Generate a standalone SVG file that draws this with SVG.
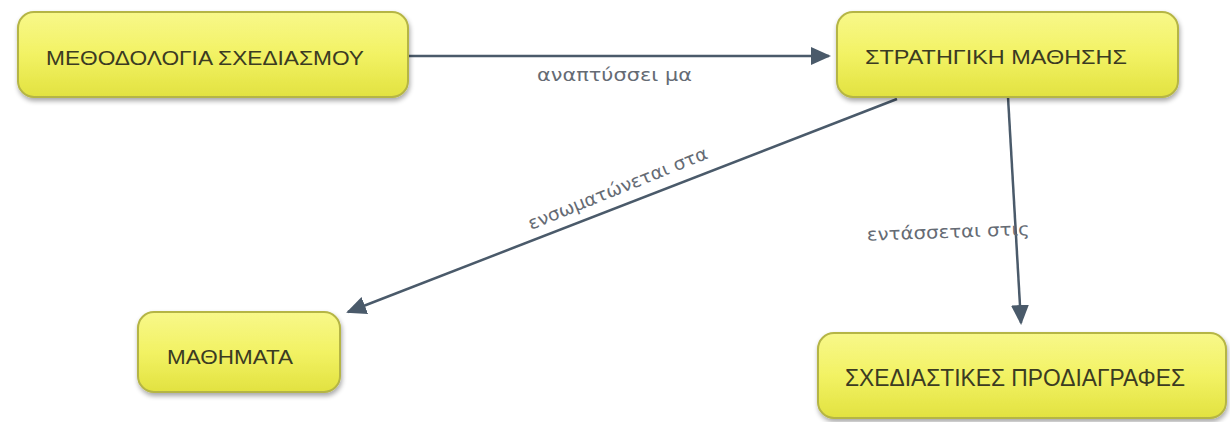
<svg xmlns="http://www.w3.org/2000/svg" width="1230" height="422" viewBox="0 0 1230 422">
<defs>
<linearGradient id="g" x1="0" y1="0" x2="0" y2="1">
<stop offset="0" stop-color="#f8f88a"/>
<stop offset="0.5" stop-color="#f2f264"/>
<stop offset="1" stop-color="#e2e240"/>
</linearGradient>
<filter id="sh" x="-10%" y="-20%" width="120%" height="150%">
<feGaussianBlur in="SourceAlpha" stdDeviation="2.5"/>
<feOffset dx="1" dy="3" result="b"/>
<feComponentTransfer><feFuncA type="linear" slope="0.35"/></feComponentTransfer>
<feMerge><feMergeNode/><feMergeNode in="SourceGraphic"/></feMerge>
</filter>
<marker id="ahb" viewBox="0 0 10 10" refX="9" refY="5" markerWidth="8" markerHeight="8" orient="auto">
<path d="M0,0.5 L10,5 L0,9.5 z" fill="#4a5a6a"/>
</marker>
</defs>
<style>
.box{fill:url(#g);stroke:#b5b545;stroke-width:2;filter:url(#sh)}
.nt{font-family:"Liberation Sans",Arial,sans-serif;font-size:21px;fill:#3b3b22}
.ln{stroke:#4a5a6a;stroke-width:2.5;fill:none;marker-end:url(#ahb)}
.lb{font-family:"DejaVu Sans","Open Sans",sans-serif;font-size:18px;fill:#656b74}
</style>
<rect width="1230" height="422" fill="#ffffff"/>
<g id="connectors">
<line class="ln" x1="408" y1="56" x2="829" y2="56"/>
<line class="ln" x1="897" y1="99" x2="348" y2="312"/>
<line class="ln" x1="1008" y1="97" x2="1021" y2="323"/>
<text class="lb" x="537" y="81" textLength="155" lengthAdjust="spacingAndGlyphs">αναπτύσσει μα</text>
<text class="lb" x="620" y="194" text-anchor="middle" textLength="192" lengthAdjust="spacingAndGlyphs" transform="rotate(-22 620 194)">ενσωματώνεται στα</text>
<text class="lb" x="867" y="238" textLength="163" lengthAdjust="spacingAndGlyphs" transform="rotate(-2 946 238)">εντάσσεται  στις</text>
</g>
<g id="n1">
<rect class="box" x="18" y="12" width="390" height="85" rx="16"/>
<text class="nt" x="46" y="65" textLength="318" lengthAdjust="spacingAndGlyphs">ΜΕΘΟΔΟΛΟΓΙΑ ΣΧΕΔΙΑΣΜΟΥ</text>
</g>
<g id="n2">
<rect class="box" x="837" y="12" width="341" height="85" rx="16"/>
<text class="nt" x="865" y="64" textLength="262" lengthAdjust="spacingAndGlyphs">ΣΤΡΑΤΗΓΙΚΗ ΜΑΘΗΣΗΣ</text>
</g>
<g id="n3">
<rect class="box" x="138" y="312" width="202" height="80" rx="16"/>
<text class="nt" x="167" y="364" textLength="126" lengthAdjust="spacingAndGlyphs">ΜΑΘΗΜΑΤΑ</text>
</g>
<g id="n4">
<rect class="box" x="818" y="333" width="408" height="85" rx="16"/>
<text class="nt" x="845" y="386" style="font-size:23px" textLength="340" lengthAdjust="spacingAndGlyphs">ΣΧΕΔΙΑΣΤΙΚΕΣ ΠΡΟΔΙΑΓΡΑΦΕΣ</text>
</g>
</svg>
